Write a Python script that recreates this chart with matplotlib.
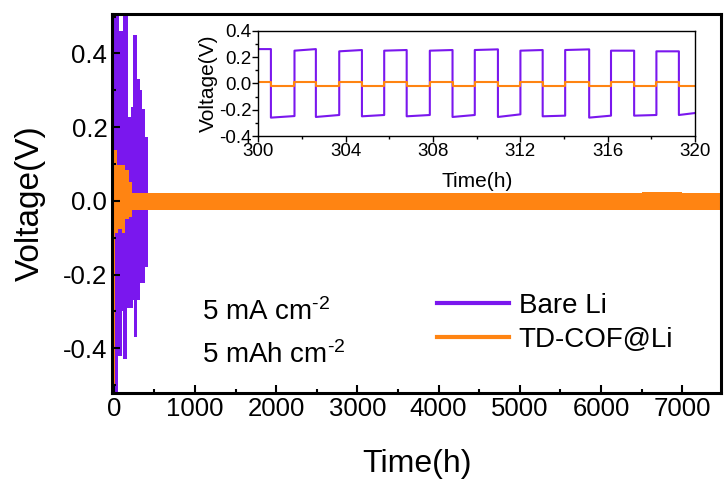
import numpy as np
import matplotlib
matplotlib.use('Agg')
import matplotlib.pyplot as plt
from matplotlib.lines import Line2D
from matplotlib.ticker import MultipleLocator

plt.rcParams['font.family'] = ['Liberation Sans', 'DejaVu Sans']
plt.rcParams['mathtext.fontset'] = 'custom'
plt.rcParams['mathtext.rm'] = 'Liberation Sans'
plt.rcParams['mathtext.default'] = 'regular'

purple = '#7A17EE'
orange = '#FF8412'

# main plot: envelopes (segment edges in h, upper / lower voltage in V)
bare_t = [0, 5, 54, 63, 96, 116, 158, 170, 211, 240, 252, 281, 289, 320, 350, 383, 416]
bare_hi = [0.6, 0.6, 0.6, 0.46, 0.46, 0.6, 0.6, 0.227, 0.255, 0.45, 0.45, 0.33, 0.33, 0.30, 0.25, 0.173]
bare_lo = [-0.6, -0.6, -0.42, -0.42, -0.30, -0.43, -0.29, -0.29, -0.29, -0.27, -0.37, -0.37, -0.27, -0.224, -0.224, -0.18]

cof_t = [0, 20, 35, 54, 96, 137, 186, 220, 1500, 3000, 4500, 6000, 6500, 7000, 7480]
cof_hi = [0.138, 0.138, 0.097, 0.097, 0.097, 0.083, 0.05, 0.022, 0.021, 0.022, 0.021, 0.022, 0.023, 0.022]
cof_lo = [-0.52, -0.088, -0.088, -0.075, -0.088, -0.048, -0.045, -0.025, -0.024, -0.025, -0.024, -0.025, -0.026, -0.025]

# inset: switching times (h) and start/end voltage of each half cycle
ins_t = [300.0, 300.57, 301.65, 302.63, 303.7, 304.74, 305.76, 306.79, 307.85, 308.89,
         309.91, 310.97, 312.0, 313.02, 314.05, 315.15, 316.15, 317.21, 318.23, 319.26, 320.0]
bare_v0 = [0.262, -0.26, 0.25, -0.255, 0.245, -0.25, 0.25, -0.25, 0.25, -0.255,
           0.255, -0.255, 0.25, -0.25, 0.255, -0.26, 0.25, -0.245, 0.245, -0.24]
bare_v1 = [0.262, -0.248, 0.262, -0.24, 0.255, -0.24, 0.255, -0.24, 0.255, -0.24,
           0.26, -0.235, 0.255, -0.245, 0.26, -0.245, 0.25, -0.24, 0.245, -0.225]
cof_v = [0.015, -0.02, 0.015, -0.02, 0.015, -0.02, 0.015, -0.02, 0.015, -0.02,
         0.015, -0.02, 0.015, -0.02, 0.015, -0.02, 0.015, -0.02, 0.015, -0.02]

fig = plt.figure(figsize=(7.24, 4.84), dpi=100)
ax = fig.add_axes([0.155, 0.189, 0.841, 0.782])

ax.stairs(bare_hi, bare_t, baseline=bare_lo, fill=True, color=purple, lw=0)
ax.stairs(cof_hi, cof_t, baseline=cof_lo, fill=True, color=orange, lw=0)

ax.set_xlim(-20, 7480)
ax.set_ylim(-0.52, 0.507)
ax.xaxis.set_major_locator(MultipleLocator(1000))
ax.xaxis.set_minor_locator(MultipleLocator(500))
ax.set_yticks([-0.4, -0.2, 0.0, 0.2, 0.4])
ax.set_yticklabels(['-0.4', '-0.2', '0.0', '0.2', '0.4'])
ax.yaxis.set_minor_locator(MultipleLocator(0.1))
ax.tick_params(which='both', direction='in', labelsize=18.5, width=1.5)
ax.tick_params(which='major', length=6)
ax.tick_params(which='minor', length=3)
for s in ax.spines.values():
    s.set_linewidth(2.2)
ax.set_xlabel('Time(h)', fontsize=23, labelpad=20)
ax.set_ylabel('Voltage(V)', fontsize=24, labelpad=12)

fig.text(0.279, 0.339, r'5 mA cm$^{\text{-}2}$', fontsize=20, va='baseline')
fig.text(0.279, 0.25, r'5 mAh cm$^{\text{-}2}$', fontsize=20, va='baseline')

handles = [Line2D([], [], color=purple, lw=3), Line2D([], [], color=orange, lw=3)]
fig.legend(handles, ['Bare Li', 'TD-COF@Li'], loc='upper left', bbox_to_anchor=(0.603, 0.395),
           frameon=False, fontsize=20, handlelength=2.6, handletextpad=0.35,
           labelspacing=0.3, borderpad=0, borderaxespad=0)

# inset
ins = fig.add_axes([0.357, 0.719, 0.603, 0.217])
xs, yb, yc = [], [], []
for i in range(len(ins_t) - 1):
    xs += [ins_t[i], ins_t[i + 1]]
    yb += [bare_v0[i], bare_v1[i]]
    yc += [cof_v[i], cof_v[i]]
ins.plot(xs, yb, color=purple, lw=1.5)
ins.plot(xs, yc, color=orange, lw=1.5)
ins.set_xlim(300, 320)
ins.set_ylim(-0.4, 0.4)
ins.xaxis.set_major_locator(MultipleLocator(4))
ins.xaxis.set_minor_locator(MultipleLocator(2))
ins.set_yticks([-0.4, -0.2, 0.0, 0.2, 0.4])
ins.set_yticklabels(['-0.4', '-0.2', '0.0', '0.2', '0.4'])
ins.yaxis.set_minor_locator(MultipleLocator(0.1))
ins.tick_params(which='both', direction='out', labelsize=13.5, width=1, pad=1)
ins.tick_params(which='major', length=4)
ins.tick_params(which='minor', length=2)
for s in ins.spines.values():
    s.set_linewidth(1)
ins.set_xlabel('Time(h)', fontsize=15, labelpad=9)
ins.set_ylabel('Voltage(V)', fontsize=15, labelpad=1)

fig.savefig('out.png', dpi=100)
